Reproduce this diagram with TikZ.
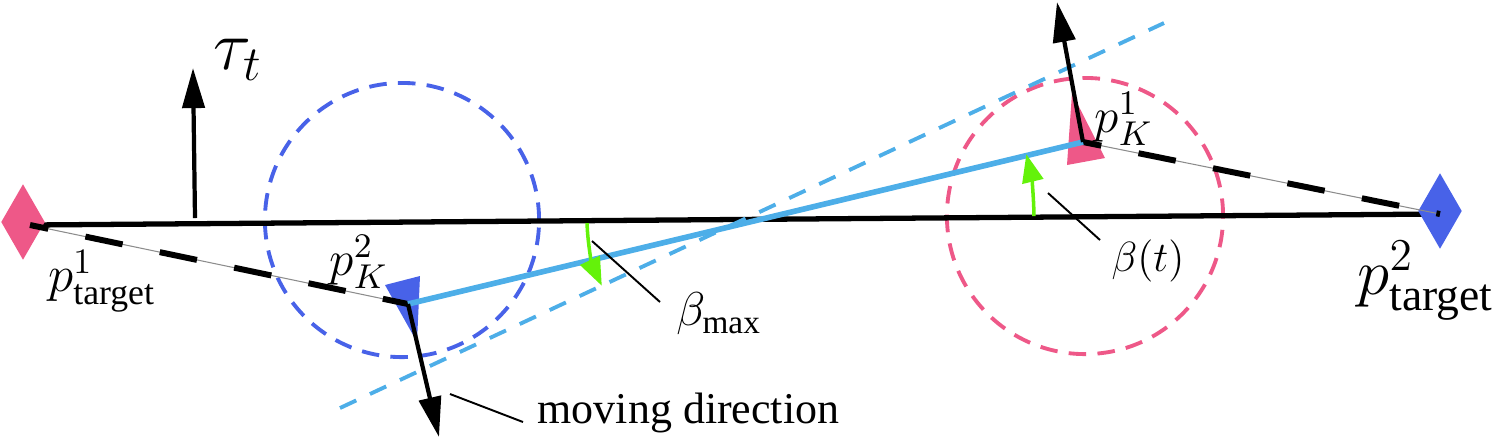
\RequirePackage{fix-cm}
\documentclass[tikz,border=0pt]{standalone}
\usepackage{amsmath}
\usepackage[no-math]{fontspec}
\setmainfont{Liberation Serif}
\usepackage{tikz}
\usetikzlibrary{arrows.meta,calc,shapes.geometric}

\definecolor{pinkK}{RGB}{238,88,136}
\definecolor{blueK}{RGB}{72,98,232}
\definecolor{skyK}{RGB}{77,174,232}
\definecolor{limeK}{RGB}{100,242,10}

\begin{document}
\begin{tikzpicture}[x=0.01cm, y=-0.01cm,
    vec/.style={line width=1.2pt, -{Triangle[length=11.4pt,width=6.3pt]}},
    legdash/.style={line width=1.7pt, dash pattern=on 10.8pt off 10.8pt, dash phase=5.5pt},
    legthin/.style={line width=0.3pt, black!45},
    ring/.style={line width=1.1pt, dash pattern=on 5pt off 3.2pt},
    swing/.style={limeK, line width=1pt, -{Triangle[length=8pt,width=6pt]}},
    lead/.style={line width=0.55pt},
    target/.style={diamond, inner sep=0pt, minimum width=0.44cm, minimum height=0.76cm}]
    \useasboundingbox (0,0) rectangle (1496,441);

    \coordinate (pt1) at (30,225);
    \coordinate (pt2) at (1440,214);
    \coordinate (pk2) at (408,304);
    \coordinate (pk1) at (1083,142);
    \coordinate (c2) at (402,220);
    \coordinate (c1) at (1085,216);
    \coordinate (d1) at (340,408);
    \coordinate (d2) at (1164,23);
    \coordinate (cmax) at (745,219);
    \coordinate (cbt) at (756,219);

    % circles and triangles
    \draw[ring, blueK] (c2) circle (1.37cm);
    \draw[ring, pinkK] (c1) circle (1.38cm);
    \fill[blueK] (385,285) -- (420,276) -- (417,342) -- cycle;
    \fill[pinkK] (1067,165) -- (1105,158) -- (1072,93) -- cycle;

    % reference line and targets
    \draw[line width=1.5pt] (pt1) -- (pt2);
    \node[target, fill=pinkK] (nodept1) at (23,222) {};
    \node[target, fill=blueK] (nodept2) at (1440,211) {};

    \draw[legthin] (pt1) -- (pk2);
    \draw[legdash] (pt1) -- (pk2);
    \draw[legthin] (pk1) -- (pt2);
    \draw[legdash] (pk1) -- (pt2);

    \draw[skyK, line width=1.1pt, dash pattern=on 5.1pt off 4.3pt] (d1) -- (d2);
    \draw[skyK, line width=1.6pt] (pk2) -- (pk1);

    % directions
    \coordinate (tb) at (195,218);
    \coordinate (tt) at (193,68);
    \coordinate (mv) at (439,437);
    \coordinate (up1) at (1057,2);
    \draw[vec] (tb) -- (tt);
    \draw[vec] (pk2) -- (mv);
    \draw[vec] (pk1) -- (up1);

    % angles
    \draw[swing] ($(cmax)+(178.5:158)$) arc[start angle=178.5, end angle=155, radius=158];
    \draw[swing] ($(cbt)+(-0.6:278)$) arc[start angle=-0.6, end angle=-13.5, radius=278];

    % labels
    \node[inner sep=0pt, font=\fontsize{20}{24}\selectfont] (tau) at (238,60) {$\tau_t$};
    \node[inner sep=0pt, font=\fontsize{14.5}{17}\selectfont] (lpt1) at (102,281) {$p^1_{\text{target}}$};
    \node[inner sep=0pt, font=\fontsize{18.5}{22}\selectfont] (lpt2) at (1426,281) {$p^2_{\text{target}}$};
    \node[inner sep=0pt, font=\fontsize{14}{17}\selectfont] (lpk2) at (359,262) {$p^2_K$};
    \node[inner sep=0pt, font=\fontsize{14}{17}\selectfont] (lpk1) at (1124,119) {$p^1_K$};
    \node[inner sep=0pt, font=\fontsize{13.5}{16}\selectfont] (lmax) at (719,314) {$\beta_{\text{max}}$};
    \node[inner sep=0pt, font=\fontsize{12}{15}\selectfont] (lbt) at (1148,261) {$\beta(t)$};
    \node[anchor=base west, inner sep=0pt, font=\fontsize{12.5}{15}\selectfont] (lmv) at (537,423) {moving direction};

    % leaders
    \coordinate (a1) at (592,241);
    \coordinate (a2) at (660,302);
    \coordinate (b1) at (1048,193);
    \coordinate (b2) at (1100,240);
    \coordinate (m1) at (450,394);
    \coordinate (m2) at (523,422);
    \draw[lead] (a1) -- (a2);
    \draw[lead] (b1) -- (b2);
    \draw[lead] (m1) -- (m2);
\end{tikzpicture}
\end{document}
